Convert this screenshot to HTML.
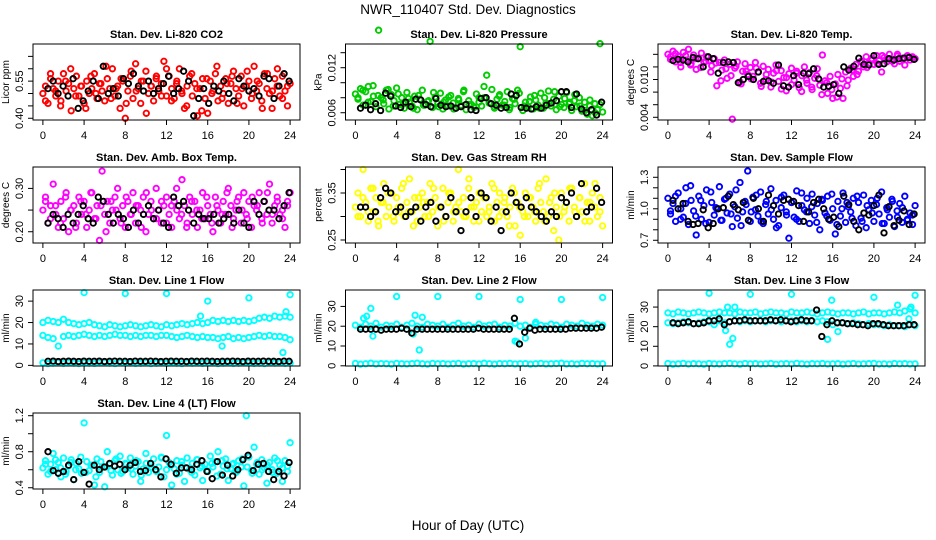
<!DOCTYPE html>
<html><head><meta charset="utf-8"><style>
html,body{margin:0;padding:0;background:#fff;}
svg{display:block;font-family:"Liberation Sans",Arial,sans-serif;}
</style></head><body>
<svg id="chart" width="936" height="540" viewBox="0 0 936 540" xmlns="http://www.w3.org/2000/svg">
<rect width="936" height="540" fill="#fff"/>
<text x="468" y="14" font-size="13.5" text-anchor="middle">NWR_110407  Std. Dev. Diagnostics</text>
<text x="468" y="530" font-size="13.5" text-anchor="middle">Hour of Day (UTC)</text>
</svg>
<script>
// ---- data ----
const co2Colored=[0.50,0.53,0.46,0.56,0.52,0.49,0.55,0.47,0.58,0.51,0.54,0.43,0.52,0.57,0.49,0.53,0.46,0.55,0.50,0.52,0.58,0.48,0.54,0.51,0.47,0.56,0.52,0.60,0.49,0.53,0.44,0.55,0.40,0.51,0.57,0.48,0.62,0.52,0.46,0.55,0.59,0.50,0.53,0.47,0.56,0.51,0.54,0.63,0.49,0.57,0.52,0.48,0.55,0.60,0.50,0.44,0.53,0.57,0.49,0.54,0.41,0.52,0.56,0.48,0.42,0.55,0.51,0.58,0.47,0.53,0.50,0.56,0.46,0.54,0.59,0.52,0.49,0.57,0.45,0.53,0.55,0.48,0.61,0.51,0.54,0.47,0.58,0.52,0.50,0.44,0.56,0.53,0.49,0.57,0.51,0.45,0.54];
const co2Extra=[0.47,0.58,0.51,0.45,0.55,0.60,0.49,0.53,0.44,0.57,0.50,0.54,0.61,0.48,0.52,0.56,0.46,0.59,0.51,0.55,0.42,0.53,0.57,0.49,0.60,0.47,0.54,0.51,0.45,0.58,0.52,0.43,0.56,0.50,0.61,0.48,0.54,0.57,0.46,0.52,0.59,0.50,0.55,0.44,0.58,0.51,0.60,0.48,0.53];
const co2Black=[0.52,0.55,0.50,0.53,0.49,0.56,0.44,0.47,0.51,0.55,0.48,0.61,0.50,0.52,0.49,0.56,0.54,0.58,0.53,0.51,0.55,0.50,0.52,0.54,0.57,0.50,0.52,0.59,0.55,0.41,0.48,0.52,0.46,0.53,0.51,0.55,0.50,0.47,0.56,0.53,0.51,0.52,0.49,0.57,0.56,0.48,0.53,0.58,0.55];
const presColored=[0.0085,0.0078,0.0092,0.0070,0.0088,0.0095,0.0075,0.0082,0.0068,0.0170,0.0080,0.0072,0.0090,0.0065,0.0084,0.0076,0.0093,0.0071,0.0080,0.0066,0.0087,0.0074,0.0069,0.0082,0.0064,0.0078,0.0090,0.0070,0.0075,0.0155,0.0067,0.0081,0.0072,0.0086,0.0065,0.0077,0.0069,0.0083,0.0073,0.0066,0.0079,0.0070,0.0088,0.0064,0.0076,0.0071,0.0068,0.0085,0.0074,0.0069,0.0080,0.0110,0.0073,0.0091,0.0066,0.0078,0.0084,0.0070,0.0075,0.0088,0.0067,0.0079,0.0072,0.0090,0.0148,0.0063,0.0074,0.0068,0.0081,0.0065,0.0077,0.0070,0.0086,0.0066,0.0073,0.0089,0.0069,0.0078,0.0064,0.0082,0.0071,0.0067,0.0087,0.0072,0.0063,0.0076,0.0068,0.0080,0.0062,0.0074,0.0058,0.0069,0.0056,0.0072,0.0064,0.0152,0.0061];
const presExtra=[0.0080,0.0090,0.0074,0.0096,0.0083,0.0077,0.0091,0.0069,0.0085,0.0072,0.0079,0.0066,0.0083,0.0070,0.0076,0.0087,0.0068,0.0074,0.0081,0.0065,0.0077,0.0090,0.0071,0.0067,0.0080,0.0095,0.0073,0.0068,0.0082,0.0070,0.0064,0.0078,0.0086,0.0069,0.0075,0.0083,0.0066,0.0080,0.0072,0.0088,0.0068,0.0079,0.0074,0.0084,0.0069,0.0063,0.0077,0.0060,0.0071];
const presBlack=[0.0066,0.0070,0.0064,0.0072,0.0063,0.0086,0.0082,0.0069,0.0067,0.0074,0.0068,0.0078,0.0077,0.0071,0.0068,0.0079,0.0070,0.0068,0.0069,0.0066,0.0068,0.0071,0.0064,0.0063,0.0079,0.0080,0.0072,0.0070,0.0066,0.0067,0.0085,0.0083,0.0067,0.0066,0.0065,0.0068,0.0066,0.0070,0.0073,0.0076,0.0088,0.0088,0.0067,0.0085,0.0065,0.0060,0.0064,0.0057,0.0074];
const tempColored=[0.0140,0.0132,0.0145,0.0128,0.0137,0.0120,0.0143,0.0131,0.0148,0.0125,0.0139,0.0116,0.0134,0.0142,0.0127,0.0136,0.0130,0.0122,0.0133,0.0090,0.0127,0.0115,0.0131,0.0102,0.0124,0.0037,0.0118,0.0128,0.0096,0.0113,0.0125,0.0108,0.0119,0.0105,0.0127,0.0112,0.0094,0.0121,0.0100,0.0116,0.0088,0.0110,0.0123,0.0097,0.0114,0.0103,0.0082,0.0109,0.0118,0.0099,0.0113,0.0087,0.0106,0.0120,0.0094,0.0111,0.0084,0.0102,0.0117,0.0091,0.0139,0.0098,0.0078,0.0105,0.0070,0.0093,0.0108,0.0086,0.0070,0.0112,0.0099,0.0118,0.0105,0.0124,0.0113,0.0129,0.0120,0.0136,0.0126,0.0133,0.0124,0.0138,0.0130,0.0112,0.0135,0.0128,0.0140,0.0132,0.0125,0.0137,0.0129,0.0134,0.0123,0.0138,0.0131,0.0136,0.0133];
const tempExtra=[0.0136,0.0141,0.0127,0.0138,0.0123,0.0133,0.0119,0.0129,0.0112,0.0126,0.0098,0.0117,0.0106,0.0121,0.0093,0.0113,0.0101,0.0118,0.0089,0.0108,0.0096,0.0114,0.0085,0.0103,0.0092,0.0110,0.0081,0.0099,0.0088,0.0106,0.0076,0.0095,0.0084,0.0072,0.0101,0.0090,0.0115,0.0108,0.0127,0.0119,0.0131,0.0125,0.0138,0.0133,0.0129,0.0140,0.0132,0.0137,0.0134];
const tempBlack=[0.0130,0.0132,0.0131,0.0128,0.0135,0.0133,0.0120,0.0136,0.0133,0.0110,0.0127,0.0128,0.0127,0.0095,0.0100,0.0105,0.0100,0.0112,0.0097,0.0098,0.0094,0.0123,0.0090,0.0088,0.0106,0.0092,0.0110,0.0109,0.0117,0.0101,0.0088,0.0089,0.0092,0.0078,0.0120,0.0115,0.0121,0.0134,0.0124,0.0123,0.0138,0.0124,0.0125,0.0133,0.0131,0.0133,0.0134,0.0135,0.0132];
const ambColored=[0.25,0.28,0.22,0.26,0.31,0.24,0.21,0.27,0.23,0.29,0.20,0.25,0.26,0.22,0.28,0.24,0.27,0.21,0.25,0.29,0.23,0.26,0.18,0.34,0.24,0.27,0.22,0.25,0.28,0.30,0.23,0.26,0.21,0.27,0.24,0.29,0.22,0.26,0.25,0.28,0.20,0.24,0.27,0.23,0.30,0.25,0.22,0.26,0.28,0.24,0.21,0.27,0.25,0.23,0.32,0.26,0.22,0.28,0.24,0.27,0.21,0.25,0.29,0.23,0.26,0.24,0.20,0.28,0.25,0.22,0.27,0.24,0.30,0.26,0.23,0.25,0.28,0.22,0.29,0.24,0.27,0.21,0.26,0.25,0.29,0.23,0.27,0.24,0.31,0.22,0.26,0.28,0.24,0.25,0.21,0.27,0.29];
const ambExtra=[0.27,0.23,0.26,0.22,0.28,0.25,0.21,0.27,0.24,0.29,0.23,0.26,0.20,0.27,0.25,0.22,0.28,0.24,0.26,0.21,0.29,0.25,0.23,0.27,0.22,0.26,0.30,0.24,0.21,0.27,0.25,0.23,0.28,0.22,0.26,0.24,0.29,0.21,0.27,0.25,0.23,0.28,0.26,0.22,0.29,0.24,0.27,0.23,0.26];
const ambBlack=[0.22,0.24,0.23,0.21,0.24,0.22,0.24,0.26,0.23,0.22,0.28,0.27,0.24,0.22,0.24,0.23,0.21,0.25,0.22,0.24,0.26,0.23,0.25,0.22,0.21,0.28,0.26,0.27,0.25,0.22,0.24,0.23,0.23,0.24,0.22,0.23,0.24,0.22,0.25,0.22,0.21,0.27,0.24,0.27,0.25,0.25,0.23,0.26,0.29];
const rhColored=[0.32,0.35,0.30,0.40,0.33,0.29,0.36,0.31,0.34,0.28,0.33,0.37,0.30,0.32,0.35,0.29,0.34,0.31,0.36,0.30,0.33,0.38,0.31,0.34,0.29,0.32,0.35,0.30,0.33,0.37,0.31,0.34,0.28,0.32,0.36,0.30,0.33,0.35,0.29,0.32,0.40,0.31,0.34,0.30,0.36,0.32,0.29,0.33,0.35,0.31,0.34,0.30,0.32,0.37,0.29,0.33,0.35,0.31,0.34,0.30,0.32,0.36,0.28,0.33,0.26,0.31,0.35,0.30,0.34,0.32,0.29,0.36,0.33,0.31,0.38,0.30,0.34,0.27,0.32,0.25,0.35,0.31,0.33,0.29,0.36,0.32,0.30,0.34,0.31,0.37,0.33,0.29,0.35,0.32,0.30,0.34,0.28];
const rhExtra=[0.30,0.34,0.31,0.36,0.29,0.33,0.35,0.30,0.32,0.37,0.31,0.28,0.34,0.33,0.30,0.36,0.32,0.29,0.35,0.31,0.33,0.30,0.38,0.32,0.29,0.34,0.31,0.36,0.30,0.33,0.28,0.35,0.32,0.30,0.34,0.31,0.37,0.29,0.33,0.35,0.30,0.32,0.36,0.31,0.34,0.29,0.33,0.37,0.31];
const rhBlack=[0.32,0.32,0.30,0.31,0.34,0.36,0.35,0.31,0.32,0.30,0.31,0.32,0.29,0.32,0.33,0.29,0.32,0.30,0.34,0.31,0.27,0.31,0.34,0.30,0.35,0.34,0.29,0.32,0.27,0.31,0.35,0.33,0.32,0.34,0.32,0.31,0.30,0.29,0.31,0.30,0.34,0.33,0.35,0.30,0.37,0.31,0.32,0.36,0.33];
const flowColored=[1.10,0.95,1.05,0.88,1.15,1.00,0.92,1.20,0.85,1.08,0.98,0.75,1.12,0.90,1.03,1.18,0.87,1.06,0.94,1.00,1.21,0.89,1.09,0.96,1.14,0.83,1.02,0.91,1.25,0.97,1.07,1.36,0.88,1.11,0.99,0.93,1.16,0.86,1.04,0.95,1.19,0.90,1.08,0.84,1.01,1.13,0.97,0.72,1.06,0.92,1.17,0.88,1.03,0.99,1.10,0.86,1.14,0.94,1.05,0.80,1.08,0.96,1.12,0.89,1.00,0.76,1.07,0.93,1.15,0.87,1.02,0.97,1.10,0.84,1.06,0.91,1.13,0.82,0.99,1.08,0.88,1.04,0.95,1.16,0.86,1.01,0.92,1.09,0.83,0.98,1.05,0.87,1.12,0.90,0.96,0.85,1.03];
const flowExtra=[0.98,1.12,0.90,1.05,1.22,0.93,1.08,0.86,1.16,1.01,0.89,1.10,0.95,1.18,0.84,1.04,0.97,1.13,0.88,1.07,0.99,0.82,1.11,0.94,1.06,0.90,1.15,0.97,1.02,0.87,1.09,0.93,1.14,0.85,1.00,1.06,0.91,1.12,0.88,1.03,0.96,1.10,0.86,0.99,1.07,0.92,1.01,0.89,0.94];
const flowBlack=[1.08,1.00,1.05,0.88,0.85,0.86,0.99,0.82,0.86,1.00,1.01,1.12,1.04,0.99,1.06,0.89,1.10,1.00,0.88,1.13,1.03,0.95,1.08,1.09,1.07,1.03,0.88,0.97,1.06,1.09,1.00,0.90,0.92,0.83,1.12,1.04,0.88,0.80,0.96,0.94,1.03,1.13,0.77,1.02,0.84,0.89,0.98,0.85,0.95];
const zeroBand=[1.2,0.8,1.0,1.3,0.9,1.1,1.0,0.8,1.2,1.0,0.9,1.1,1.3,1.0,0.8,1.2,1.0,1.1,0.9,1.0,1.2,0.8,1.0,1.1,0.9,1.3,1.0,0.8,1.1,1.0,1.2,0.9,1.0,1.1,0.8,1.0,1.2,0.9,1.0,1.1,1.3,0.9,1.0,0.8,1.2,1.0,1.1,0.9,1.0];
const line1Upper=[20,21,20.5,20,21.5,20,19.5,19,19.5,20,19,18.5,18,19,18.5,18,18.5,19,18.5,18,18.5,19,18.5,18,19,18.5,19,19.5,19,19.5,20,19.5,20,21,20.5,21,20.5,21,20.5,21,20.5,21,22,22.5,22,23,22.5,23,22.5];
const line1Lower=[14,13,12.5,9,13.5,14,13.5,14,14.5,14,13.5,14,13.5,14,14.5,14,14,13.5,14,13.5,14,14,13.5,14,14,13.5,13,13.5,14,13.5,13,13.5,13,13,12.5,13,13.5,12.5,13,12.5,13,13.5,14,13.5,14,13.5,13.5,13,12];
const line1OutX=[4,8,12,15.3,16,17.4,20,23.3,23.6,24];
const line1OutY=[34,33.5,33.5,23,30,9,31.5,6,25,33];
const line1Black=[1.9,2.0,1.8,1.9,2.0,1.9,1.8,2.0,1.9,1.9,2.0,1.8,1.9,2.0,1.9,1.9,1.8,2.0,1.9,1.9,2.0,1.9,1.8,1.9,2.0,1.9,1.9,1.8,2.0,1.9,1.9,2.0,1.9,1.8,1.9,1.9,2.0,1.9,1.8,2.0,1.9,1.9,2.0,1.9,1.9,1.8,2.0,1.9];
const line2Band=[20.5,19.5,21,20,21.5,19.5,20.5,20,21,19.5,20.5,21.5,20,19.5,21,20.5,20,21,19.5,20.5,21.5,20,20.5,19.5,21,20,20.5,21,19.5,20.5,20,21.5,20,20.5,19.5,21,20.5,20,21,20.5,19.5,21,20.5,20,21.5,20.5,20,21,20.5];
const line2OutX=[0.8,1.1,1.5,1.7,4,5.6,5.8,6.2,6.5,8,12,15.5,15.7,16,16.5,17.5,20,24];
const line2OutY=[24,25,29,15,35,16,25.5,8,24.5,35,35,12.5,12,33.5,14,22,33.5,34.5];
const line2Black=[18.5,18.5,18.5,18.5,18,18.5,18.5,18.5,19,18.5,16.5,18.5,18.5,18.5,18.5,18.5,18.5,18.5,18.5,18.5,18.5,18.5,18.5,19,18.5,18.5,18.5,18.5,18.5,18.5,24,11,17,19,18,18.5,18.5,18.5,18.5,18.5,18.5,19,19,19,19,19,19,19.5];
const line3Upper=[27,26.5,27.5,27,26.5,27,27.5,27,26.5,27,27.5,27,27,26.5,27.5,27,27,27.5,26.5,27,27.5,27,27,26.5,27.5,27,27,27.5,27,26.5,27,27.5,27,26.5,27,27,26.5,27,27.5,26.5,27,27,26.5,27,27.5,27,28,29,27];
const line3Mid=[22,21.5,22,22.5,22,21.5,22,22.5,22.5,21,23,22,22.5,23,22.5,23,22.5,23,23,22.5,23,23,22.5,23,23,22.5,23,22.5,23,22.5,23,22.5,21,22,22,21.5,22,21.5,21,21.5,21,21,20.5,21,20.5,20.5,20,21,20.5];
const line3OutX=[4,5.6,5.8,6,6.3,6.5,8,12,15.5,15.9,16.5,20,22.3,23.4,23.6,24];
const line3OutY=[37,18,30,11,14,30,36.5,36.5,13.5,33.5,17.5,35,31,24,30,36];
const line3Black=[22,21.5,22,22.5,21.5,21.5,22,23,23,24,21,22.5,23,23,23.5,23,23,23,23,23.5,23,23.5,23,22.5,23,23.5,23,23,28.5,15,21,23,22,22,21.5,21.5,21,21,20.5,21.5,21.5,21,20.5,20.5,20.5,20.5,21,21];
const line4Colored=[0.62,0.70,0.55,0.66,0.78,0.60,0.68,0.52,0.73,0.58,0.64,0.71,0.49,0.67,0.61,0.56,1.12,0.69,0.59,0.65,0.43,0.72,0.57,0.63,0.41,0.80,0.66,0.54,0.70,0.60,0.75,0.58,0.67,0.62,0.73,0.55,0.64,0.69,0.47,0.61,0.78,0.57,0.66,0.72,0.59,0.63,0.74,0.52,0.98,0.68,0.43,0.61,0.70,0.56,0.65,0.47,0.73,0.60,0.67,0.54,0.71,0.62,0.48,0.66,0.58,0.75,0.63,0.69,0.80,0.55,0.64,0.72,0.48,0.61,0.67,0.57,0.70,0.63,0.42,1.20,0.74,0.59,0.85,0.66,0.55,0.71,0.62,0.45,0.68,0.60,0.73,0.56,0.65,0.47,0.70,0.58,0.90];
const line4Extra=[0.66,0.58,0.71,0.62,0.55,0.68,0.60,0.74,0.57,0.65,0.52,0.69,0.63,0.59,0.72,0.56,0.66,0.61,0.70,0.54,0.67,0.63,0.58,0.73,0.60,0.65,0.55,0.69,0.62,0.57,0.71,0.64,0.59,0.67,0.53,0.70,0.61,0.66,0.58,0.72,0.63,0.56,0.68,0.60,0.65,0.57,0.70,0.62,0.64];
const line4Black=[0.80,0.59,0.56,0.58,0.65,0.49,0.69,0.57,0.44,0.65,0.60,0.63,0.67,0.64,0.66,0.60,0.65,0.68,0.58,0.59,0.67,0.60,0.52,0.72,0.66,0.56,0.62,0.62,0.60,0.66,0.70,0.58,0.50,0.69,0.54,0.65,0.53,0.60,0.71,0.76,0.59,0.66,0.67,0.58,0.49,0.58,0.53,0.68];
const xTicks=[0,4,8,12,16,20,24];

// ---- layout / drawing ----
const NS="http://www.w3.org/2000/svg";
const svg=document.getElementById('chart');
function mk(tag,attrs,parent){const e=document.createElementNS(NS,tag);for(const k in attrs)e.setAttribute(k,attrs[k]);(parent||svg).appendChild(e);return e;}
function seq(n,a,b){const r=[];for(let i=0;i<n;i++)r.push(n>1?a+i*(b-a)/(n-1):a);return r;}

const panels=[
 {c:0,r:0,title:"Stan. Dev. Li-820 CO2",yl:"Licor ppm",ylim:[0.393,0.700],ticks:[0.40,0.45,0.50,0.55,0.60,0.65],labs:[0.40,0.55],dec:2,col:"#ff0000",
  series:[[co2Colored,0,24,"c"],[co2Extra,0.25,23.75,"c"],[co2Black,0.5,23.9,"k"]]},
 {c:1,r:0,title:"Stan. Dev. Li-820 Pressure",yl:"kPa",ylim:[0.00503,0.01516],ticks:[0.006,0.008,0.010,0.012,0.014],labs:[0.006,0.012],dec:3,col:"#00cc00",
  series:[[presColored,0,24,"c"],[presExtra,0.25,23.75,"c"],[presBlack,0.5,23.9,"k"]]},
 {c:2,r:0,title:"Stan. Dev. Li-820 Temp.",yl:"degrees C",ylim:[0.00357,0.01564],ticks:[0.004,0.006,0.008,0.010,0.012,0.014],labs:[0.004,0.010],dec:3,col:"#ff00ff",
  series:[[tempColored,0,24,"c"],[tempExtra,0.25,23.75,"c"],[tempBlack,0.5,23.9,"k"]]},
 {c:0,r:1,title:"Stan. Dev. Amb. Box Temp.",yl:"degrees C",ylim:[0.174,0.3494],ticks:[0.20,0.25,0.30],labs:[0.20,0.30],dec:2,col:"#ff00ff",
  series:[[ambColored,0,24,"c"],[ambExtra,0.25,23.75,"c"],[ambBlack,0.5,23.9,"k"]]},
 {c:1,r:1,title:"Stan. Dev. Gas Stream RH",yl:"percent",ylim:[0.2436,0.4053],ticks:[0.25,0.30,0.35,0.40],labs:[0.25,0.35],dec:2,col:"#ffff00",
  series:[[rhColored,0,24,"c"],[rhExtra,0.25,23.75,"c"],[rhBlack,0.5,23.9,"k"]]},
 {c:2,r:1,title:"Stan. Dev. Sample Flow",yl:"ml/min",ylim:[0.674,1.398],ticks:[0.7,0.8,0.9,1.0,1.1,1.2,1.3],labs:[0.7,1.0,1.3],dec:1,col:"#0000ff",
  series:[[flowColored,0,24,"c"],[flowExtra,0.25,23.75,"c"],[flowBlack,0.5,23.9,"k"]]},
 {c:0,r:2,title:"Stan. Dev. Line 1 Flow",yl:"ml/min",ylim:[-0.3,35.2],ticks:[0,10,20,30],labs:[0,10,20,30],dec:0,col:"#00ffff",
  series:[[zeroBand,0,24,"c"],[line1Upper,0,24,"c"],[line1Lower,0,24,"c"],[line1OutY,line1OutX,null,"c"],[line1Black,0.5,23.9,"k"]]},
 {c:1,r:2,title:"Stan. Dev. Line 2 Flow",yl:"ml/min",ylim:[-0.1,38.3],ticks:[0,10,20,30],labs:[0,10,20,30],dec:0,col:"#00ffff",
  series:[[zeroBand,0,24,"c"],[line2Band,0,24,"c"],[line2OutY,line2OutX,null,"c"],[line2Black,0.5,23.9,"k"]]},
 {c:2,r:2,title:"Stan. Dev. Line 3 Flow",yl:"ml/min",ylim:[-0.05,38.7],ticks:[0,10,20,30],labs:[0,10,20,30],dec:0,col:"#00ffff",
  series:[[zeroBand,0,24,"c"],[line3Upper,0,24,"c"],[line3Mid,0,24,"c"],[line3OutY,line3OutX,null,"c"],[line3Black,0.5,23.9,"k"]]},
 {c:0,r:3,title:"Stan. Dev. Line 4 (LT) Flow",yl:"ml/min",ylim:[0.386,1.23],ticks:[0.4,0.6,0.8,1.0,1.2],labs:[0.4,0.8,1.2],dec:1,col:"#00ffff",
  series:[[line4Colored,0,24,"c"],[line4Extra,0.25,23.75,"c"],[line4Black,0.5,23.9,"k"]]}
];

panels.forEach((p,pi)=>{
  const x0=33+p.c*312.5, x1=x0+267, y0=44+p.r*123, y1=y0+76;
  const g=mk('g',{});
  
  
  const xs=v=>x0+(v+0.96)/25.92*(x1-x0);
  const ys=v=>y1-(v-p.ylim[0])/(p.ylim[1]-p.ylim[0])*(y1-y0);
  const t=mk('text',{x:(x0+x1)/2,y:y0-6,'font-size':11,'font-weight':'bold','text-anchor':'middle'},g);
  t.textContent=p.title;
  
  
  const pts=mk('g',{fill:'none','stroke-width':1.9},g);
  
  
  p.series.forEach(s=>{
    const vals=s[0];
    const hx=Array.isArray(s[1])?s[1]:seq(vals.length,s[1],s[2]);
    const stroke=s[3]==='k'?'#000':p.col;
    vals.forEach((v,i)=>{
      const c=mk('circle',{cx:xs(hx[i]).toFixed(1),cy:ys(v).toFixed(1),r:2.7,stroke:stroke},pts);
      
      
    });
  });
  const box=mk('rect',{x:x0,y:y0,width:x1-x0,height:y1-y0,fill:'none',stroke:'#000','stroke-width':1},g);
  
  
  const xa=mk('g',{},g);
  
  
  mk('line',{x1:xs(0),x2:xs(24),y1:y1,y2:y1,stroke:'#000'},xa);
  xTicks.forEach(v=>{
    mk('line',{x1:xs(v),x2:xs(v),y1:y1,y2:y1+5,stroke:'#000'},xa);
    const tl=mk('text',{x:xs(v),y:y1+19,'font-size':11,'text-anchor':'middle'},xa);
    tl.textContent=v;
    
    
  });
  const ya=mk('g',{},g);
  
  
  mk('line',{x1:x0,x2:x0,y1:ys(p.ticks[0]),y2:ys(p.ticks[p.ticks.length-1]),stroke:'#000'},ya);
  p.ticks.forEach(v=>{
    mk('line',{x1:x0-5,x2:x0,y1:ys(v),y2:ys(v),stroke:'#000'},ya);
  });
  p.labs.forEach(v=>{
    const lx=x0-10, ly=ys(v);
    const tl=mk('text',{x:lx,y:ly,'font-size':11,'text-anchor':'middle',transform:`rotate(-90 ${lx} ${ly})`},ya);
    tl.textContent=v.toFixed(p.dec);
    
    
  });
  const yt=mk('text',{x:x0-24,y:(y0+y1)/2,'font-size':10,'text-anchor':'middle',transform:`rotate(-90 ${x0-24} ${(y0+y1)/2})`},g);
  yt.textContent=p.yl;
  
  
});
</script>
</body></html>
